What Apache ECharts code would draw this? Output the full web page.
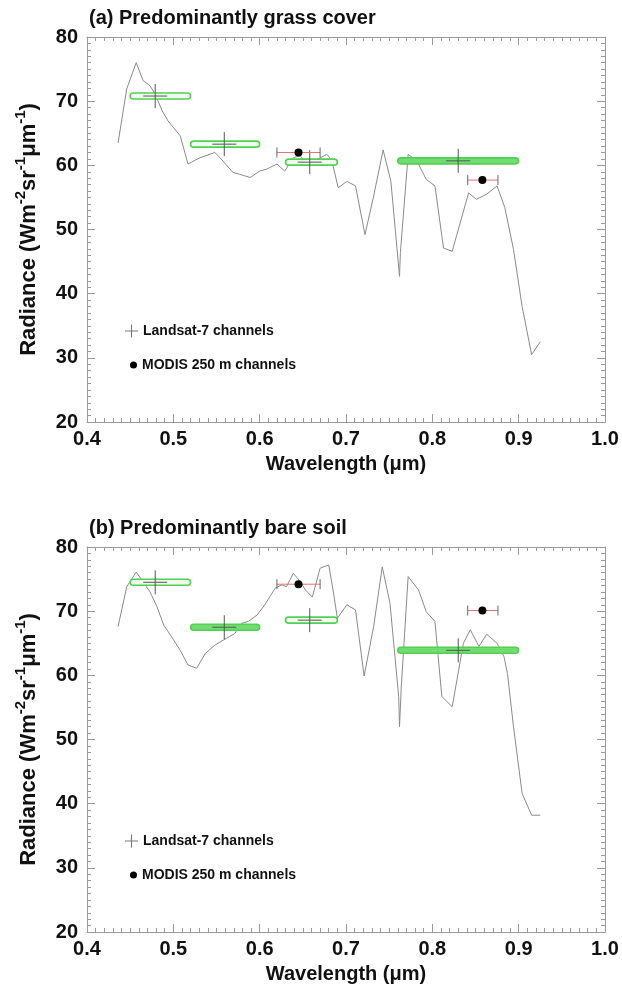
<!DOCTYPE html>
<html>
<head>
<meta charset="utf-8">
<script src="https://cdn.jsdelivr.net/npm/echarts@6/dist/echarts.min.js"></script>
<style>
  html, body { margin: 0; padding: 0; background: #fff; }
  #chart { width: 622px; height: 998px; }
</style>
</head>
<body>
<div id="chart"></div>
<script>
// Measured radiance spectra (wavelength in µm, radiance in W m-2 sr-1 µm-1)
const grassWavelength = [0.436, 0.446, 0.457, 0.465, 0.473, 0.479, 0.487, 0.494, 0.508, 0.517,
  0.531, 0.548, 0.554, 0.569, 0.577, 0.589, 0.600, 0.608, 0.620, 0.629,
  0.639, 0.647, 0.654, 0.666, 0.678, 0.681, 0.685, 0.691, 0.701, 0.711,
  0.722, 0.732, 0.743, 0.752, 0.762, 0.763, 0.772, 0.782, 0.793, 0.803,
  0.813, 0.823, 0.842, 0.851, 0.863, 0.875, 0.884, 0.894, 0.904, 0.915, 0.925];
const grassRadiance = [63.5, 71.9, 76.0, 73.2, 72.4, 71.1, 68.5, 66.9, 64.6, 60.2,
  61.2, 62.0, 61.2, 58.9, 58.6, 58.1, 59.1, 59.4, 60.2, 59.1,
  61.2, 61.5, 60.4, 60.9, 61.7, 61.2, 59.9, 56.5, 57.5, 56.8,
  49.2, 55.2, 62.4, 57.5, 42.7, 46.4, 61.7, 60.7, 57.8, 56.8,
  47.1, 46.6, 55.7, 54.7, 55.5, 56.8, 53.4, 46.9, 38.0, 30.5, 32.5];

const soilWavelength = [0.436, 0.446, 0.457, 0.473, 0.481, 0.489, 0.498, 0.508, 0.517, 0.527,
  0.537, 0.548, 0.558, 0.571, 0.579, 0.587, 0.597, 0.606, 0.618, 0.626,
  0.631, 0.639, 0.647, 0.653, 0.661, 0.670, 0.680, 0.685, 0.690, 0.701,
  0.711, 0.721, 0.732, 0.742, 0.751, 0.761, 0.762, 0.764, 0.772, 0.784,
  0.793, 0.803, 0.811, 0.823, 0.836, 0.844, 0.854, 0.863, 0.875, 0.883,
  0.887, 0.894, 0.904, 0.915, 0.925];
const soilRadiance = [67.6, 73.8, 76.1, 73.0, 70.7, 67.8, 66.0, 63.9, 61.6, 61.1,
  63.4, 64.7, 65.5, 66.5, 68.1, 68.4, 69.4, 71.0, 73.6, 74.1,
  73.8, 75.9, 74.6, 73.3, 72.2, 76.7, 77.2, 73.3, 68.9, 71.0,
  70.2, 59.9, 67.6, 76.9, 71.2, 56.7, 52.0, 58.2, 75.4, 73.3,
  69.9, 68.4, 56.7, 55.1, 65.0, 67.1, 64.5, 66.4, 65.0, 62.9,
  60.3, 52.0, 41.6, 38.2, 38.2];

// Landsat-7 ETM+ bands: spectral range, centre and band-averaged radiance
const landsatLow = [0.45, 0.52, 0.63, 0.76];
const landsatHigh = [0.52, 0.60, 0.69, 0.90];
const landsatCentre = [0.479, 0.559, 0.658, 0.830];
const landsatGrass = [70.8, 63.3, 60.5, 60.7];
const landsatSoil = [74.5, 67.5, 68.6, 63.9];

// MODIS 250 m bands
const modisLow = [0.620, 0.841];
const modisHigh = [0.670, 0.876];
const modisCentre = [0.645, 0.858];
const modisGrass = [62.0, 57.7];
const modisSoil = [74.2, 70.1];

// Which band rectangles are drawn solid in each panel
const solidBandsGrass = [3];
const solidBandsSoil = [1, 3];

const FONT = '"Liberation Sans", Arial, Helvetica, sans-serif';
const AXIS_GREY = '#9a9a9a';
const LANDSAT_NAME = 'Landsat-7 channels';
const MODIS_NAME = 'MODIS 250 m channels';

const pairs = (xs, ys) => xs.map((x, i) => [x, ys[i]]);

function bandData(values) {
  return landsatLow.map((lo, i) => [lo, landsatHigh[i], values[i]]);
}
function crossData(values) {
  return landsatCentre.map((c, i) => [c, values[i]]);
}
function modisData(values) {
  return modisCentre.map((c, i) => [c, modisLow[i], modisHigh[i], values[i]]);
}

function makeBandRenderer(solid) {
  return function (params, api) {
    const a = api.coord([api.value(0), api.value(2)]);
    const b = api.coord([api.value(1), api.value(2)]);
    const isSolid = solid.indexOf(params.dataIndex) >= 0;
    return {
      type: 'rect',
      shape: { x: a[0], y: a[1] - 3, width: b[0] - a[0], height: 6, r: 3 },
      style: { fill: isSolid ? '#72dc72' : '#f0fbf0', stroke: '#52d052', lineWidth: 1.6 }
    };
  };
}

function renderCross(params, api) {
  const p = api.coord([api.value(0), api.value(1)]);
  const h = 12;
  return {
    type: 'group',
    children: [
      { type: 'line', shape: { x1: p[0] - h, y1: p[1], x2: p[0] + h, y2: p[1] }, style: { stroke: '#555', lineWidth: 1 } },
      { type: 'line', shape: { x1: p[0], y1: p[1] - h, x2: p[0], y2: p[1] + h }, style: { stroke: '#555', lineWidth: 1 } }
    ]
  };
}

function renderModis(params, api) {
  const c = api.coord([api.value(0), api.value(3)]);
  const lo = api.coord([api.value(1), api.value(3)]);
  const hi = api.coord([api.value(2), api.value(3)]);
  const cap = 5;
  return {
    type: 'group',
    children: [
      { type: 'line', shape: { x1: lo[0], y1: lo[1], x2: hi[0], y2: hi[1] }, style: { stroke: '#e77070', lineWidth: 1 } },
      { type: 'line', shape: { x1: lo[0], y1: lo[1] - cap, x2: lo[0], y2: lo[1] + cap }, style: { stroke: '#666', lineWidth: 1 } },
      { type: 'line', shape: { x1: hi[0], y1: hi[1] - cap, x2: hi[0], y2: hi[1] + cap }, style: { stroke: '#666', lineWidth: 1 } },
      { type: 'circle', shape: { cx: c[0], cy: c[1], r: 4 }, style: { fill: '#000' } }
    ]
  };
}

const tickStyle = { lineStyle: { color: AXIS_GREY, width: 1 } };
const labelStyle = { fontFamily: FONT, fontWeight: 'bold', fontSize: 20, color: '#111' };

function xAxes(grid) {
  const base = {
    type: 'value', gridIndex: grid, min: 0.4, max: 1.0, interval: 0.1,
    axisLine: { show: true, lineStyle: { color: AXIS_GREY } },
    axisTick: Object.assign({ inside: true, length: 8 }, tickStyle),
    minorTick: Object.assign({ show: true, splitNumber: 10, length: 4 }, tickStyle),
    splitLine: { show: false }
  };
  return [
    Object.assign({}, base, {
      position: 'bottom',
      axisLabel: Object.assign({ margin: 7, formatter: v => v.toFixed(1) }, labelStyle),
      name: 'Wavelength (μm)', nameLocation: 'middle', nameGap: 32,
      nameTextStyle: labelStyle
    }),
    Object.assign({}, base, { position: 'top', axisLabel: { show: false } })
  ];
}

function yAxes(grid) {
  const base = {
    type: 'value', gridIndex: grid, min: 20, max: 80, interval: 10,
    axisLine: { show: true, lineStyle: { color: AXIS_GREY } },
    axisTick: Object.assign({ inside: true, length: 8 }, tickStyle),
    minorTick: Object.assign({ show: true, splitNumber: 10, length: 4 }, tickStyle),
    splitLine: { show: false }
  };
  return [
    Object.assign({}, base, {
      position: 'left',
      axisLabel: Object.assign({ margin: 9 }, labelStyle),
      name: '{b|Radiance (Wm}{s|-2}{b|sr}{s|-1}{b|μm}{s|-1}{b|)}',
      nameLocation: 'middle', nameRotate: 90, nameGap: 47,
      nameTextStyle: {
        rich: {
          b: { fontFamily: FONT, fontWeight: 'bold', fontSize: 22, color: '#111', lineHeight: 27, verticalAlign: 'bottom' },
          s: { fontFamily: FONT, fontWeight: 'bold', fontSize: 15, color: '#111', lineHeight: 27, verticalAlign: 'top' }
        }
      }
    }),
    Object.assign({}, base, { position: 'right', axisLabel: { show: false } })
  ];
}

function panelSeries(xi, yi, wl, rad, landsat, modis, solid) {
  return [
    {
      type: 'line', xAxisIndex: xi, yAxisIndex: yi, data: pairs(wl, rad),
      showSymbol: false, symbol: 'none', silent: true, z: 2,
      lineStyle: { color: '#8a8a8a', width: 1 }
    },
    {
      type: 'custom', xAxisIndex: xi, yAxisIndex: yi, data: bandData(landsat),
      renderItem: makeBandRenderer(solid), silent: true, z: 3
    },
    {
      type: 'custom', name: LANDSAT_NAME, xAxisIndex: xi, yAxisIndex: yi, data: crossData(landsat),
      renderItem: renderCross, itemStyle: { color: '#666' }, silent: true, z: 4
    },
    {
      type: 'custom', name: MODIS_NAME, xAxisIndex: xi, yAxisIndex: yi, data: modisData(modis),
      renderItem: renderModis, itemStyle: { color: '#000' }, silent: true, z: 5
    }
  ];
}

const PLUS_ICON = 'path://M11,0h2v24h-2zM0,11h24v2H0z';
const legendText = { fontFamily: FONT, fontWeight: 'bold', fontSize: 14, color: '#111' };

function legends(top) {
  return [
    {
      left: 120, top: top, orient: 'vertical', selectedMode: false,
      itemWidth: 13, itemHeight: 13, itemGap: 0, textStyle: legendText,
      data: [{ name: LANDSAT_NAME, icon: PLUS_ICON, itemStyle: { color: '#777' } }]
    },
    {
      left: 125, top: top + 34, orient: 'vertical', selectedMode: false,
      itemWidth: 7, itemHeight: 7, itemGap: 0, textStyle: legendText,
      data: [{ name: MODIS_NAME, icon: 'circle', itemStyle: { color: '#000' } }]
    }
  ];
}

const chart = echarts.init(document.getElementById('chart'), null, { renderer: 'canvas' });
chart.setOption({
  animation: false,
  backgroundColor: '#fff',
  title: [
    { text: '(a) Predominantly grass cover', left: 84, top: 3, textStyle: labelStyle },
    { text: '(b) Predominantly bare soil', left: 84, top: 513, textStyle: labelStyle }
  ],
  legend: legends(319).concat(legends(829)),
  grid: [
    { left: 87, top: 37, width: 518, height: 385 },
    { left: 87, top: 547, width: 518, height: 385 }
  ],
  xAxis: xAxes(0).concat(xAxes(1)),
  yAxis: yAxes(0).concat(yAxes(1)),
  series: panelSeries(0, 0, grassWavelength, grassRadiance, landsatGrass, modisGrass, solidBandsGrass)
    .concat(panelSeries(2, 2, soilWavelength, soilRadiance, landsatSoil, modisSoil, solidBandsSoil))
});
</script>
</body>
</html>
